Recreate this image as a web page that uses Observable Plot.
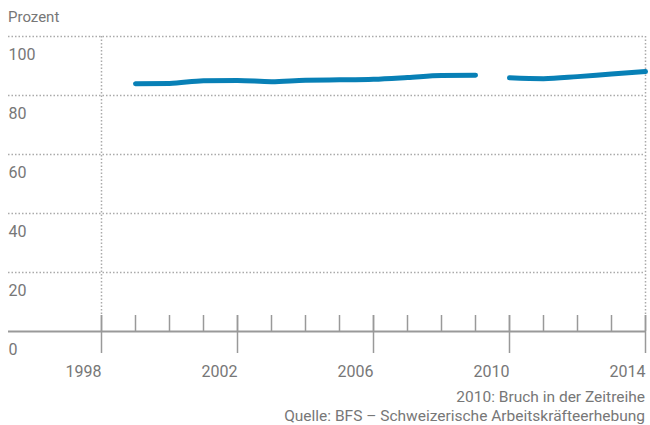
<!DOCTYPE html>
<html><head><meta charset="utf-8">
<script src="https://cdn.jsdelivr.net/npm/d3@7"></script>
<script src="https://cdn.jsdelivr.net/npm/@observablehq/plot@0.6"></script>
<style>
body{margin:0;width:650px;font-family:Roboto,sans-serif;color:#777;background:#fff}
#title{font-size:15px;padding:5px 0 0 8px;line-height:25px;height:25px}
#chart svg{display:block}
#caption{font-size:15.5px;line-height:19px;text-align:right;padding:2px 5px 0 0}
</style></head><body>
<div id="title">Prozent</div>
<div id="chart"></div>
<div id="caption"><div>2010: Bruch in der Zeitreihe</div><div>Quelle: BFS – Schweizerische Arbeitskräfteerhebung</div></div>
<script>
const years = [1999, 2000, 2001, 2002, 2003, 2004, 2005, 2006, 2007, 2008, 2009, 2010, 2011, 2012, 2013, 2014];
const values = [84.0, 84.1, 85.0, 85.1, 84.7, 85.2, 85.3, 85.5, 86.1, 86.8, 86.9, 86.0, 85.7, 86.4, 87.3, 88.1];
const series = ["bis 2009","bis 2009","bis 2009","bis 2009","bis 2009","bis 2009","bis 2009","bis 2009","bis 2009","bis 2009","bis 2009","ab 2010","ab 2010","ab 2010","ab 2010","ab 2010"];
const yGrid = [20, 40, 60, 80, 100];
const yLabels = [0, 20, 40, 60, 80, 100];
const tickYears = [1998, 1999, 2000, 2001, 2002, 2003, 2004, 2005, 2006, 2007, 2008, 2009, 2010, 2011, 2012, 2013, 2014];
const majorYears = [1998, 2002, 2006, 2010, 2014];
const frameYears = [1998, 2014];

const data = years.map((year, i) => ({year, value: values[i], series: series[i]}));
const grey = "#999";
const chart = Plot.plot({
  width: 650, height: 356,
  marginLeft: 8, marginRight: 5, marginTop: 6, marginBottom: 55,
  x: {domain: [1998, 2014], range: [101, 645], axis: null},
  y: {domain: [0, 100], range: [301, 6], axis: null},
  style: {fontFamily: "Roboto, sans-serif", color: "#777", background: "#fff", overflow: "visible"},
  marks: [
    Plot.ruleY(yGrid, {y: d => d, stroke: "#aaa", strokeWidth: 1.5, strokeDasharray: "1.5,2"}),
    Plot.ruleX(frameYears, {x: d => d, y1: 100, y2: 0, insetBottom: 16, stroke: "#aaa", strokeWidth: 1.5, strokeDasharray: "1.5,2"}),
    Plot.ruleY([0], {y: d => d, stroke: grey, strokeWidth: 2}),
    Plot.ruleX(tickYears, {x: d => d, y1: 0, y2: 0, insetTop: -16, insetBottom: 0, stroke: grey, strokeWidth: 1.5}),
    Plot.ruleX(majorYears, {x: d => d, y1: 0, y2: 0, insetTop: -16, insetBottom: -22, stroke: grey, strokeWidth: 1.5}),
    Plot.text(yLabels, {y: d => d, frameAnchor: "left", textAnchor: "start", dy: 18, text: d => String(d), fontSize: 16, fill: "#777"}),
    Plot.text(majorYears, {x: d => d, y: 0, dy: 40, textAnchor: "end", text: d => String(d), fontSize: 16, fill: "#777"}),
    Plot.line(data, {x: "year", y: "value", z: "series", stroke: "#0880b6", strokeWidth: 5, curve: "monotone-x", strokeLinecap: "round"})
  ]
});
document.getElementById("chart").append(chart);
</script>
</body></html>
